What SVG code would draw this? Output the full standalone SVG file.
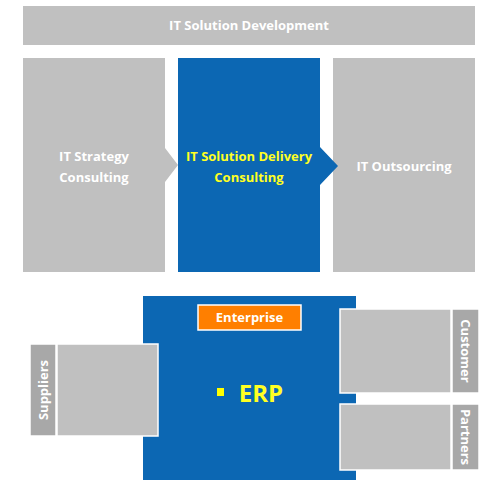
<svg xmlns="http://www.w3.org/2000/svg" width="480" height="480" viewBox="0 0 480 480">
<style>
.g{fill:#c0c0c0}
.b{fill:#0c67b3}
.s{fill:#a8a8a8}
.bd{stroke:#ffffff;stroke-width:1.5}
.t{font-family:"Open Sans","Noto Sans",sans-serif;font-weight:bold;font-size:13px;fill:#ffffff;text-anchor:middle}
.y{fill:#ffff22}
</style>
<rect width="480" height="480" fill="#ffffff"/>
<g id="top">
<rect class="g" x="23" y="6" width="452" height="39"/>
<text class="t" x="249" y="30">IT Solution Development</text>
</g>
<g id="connectors"></g>
<g id="strategy">
<path class="g" d="M23,58 H165 V148 L178,165 L165,182 V272 H23 Z"/>
<text class="t" x="94" y="161">IT Strategy</text>
<text class="t" x="94" y="182">Consulting</text>
</g>
<g id="outsourcing">
<rect class="g" x="333" y="58" width="142" height="214"/>
<text class="t" x="404" y="171">IT Outsourcing</text>
</g>
<g id="delivery">
<path class="b" d="M178,58 H320 V147 L338,166 L320,185 V272 H178 Z"/>
<text class="t y" x="249" y="161">IT Solution Delivery</text>
<text class="t y" x="249" y="182">Consulting</text>
</g>
<g id="enterprise-block">
<rect class="b" x="143" y="296" width="213" height="184"/>
</g>
<g id="enterprise">
<rect x="198" y="305" width="103" height="25" fill="#ff7f00" class="bd"/>
<text class="t" x="249.5" y="322">Enterprise</text>
</g>
<g id="erp">
<rect x="217" y="388" width="7" height="8" fill="#ffff00"/>
<text class="t y" x="261" y="402" style="font-size:24px">ERP</text>
</g>
<g id="suppliers">
<rect class="s bd" x="30" y="344" width="26" height="92"/>
<rect class="g bd" x="57" y="344" width="101" height="92"/>
<text class="t" transform="translate(48,390) rotate(-90)">Suppliers</text>
</g>
<g id="customer">
<rect class="g bd" x="340" y="309" width="111" height="84"/>
<rect class="s bd" x="452" y="309" width="27" height="84"/>
<text class="t" transform="translate(461,351) rotate(90)">Customer</text>
</g>
<g id="partners">
<rect class="g bd" x="340" y="404" width="111" height="66"/>
<rect class="s bd" x="452" y="404" width="27" height="66"/>
<text class="t" transform="translate(461,437) rotate(90)">Partners</text>
</g>
</svg>
